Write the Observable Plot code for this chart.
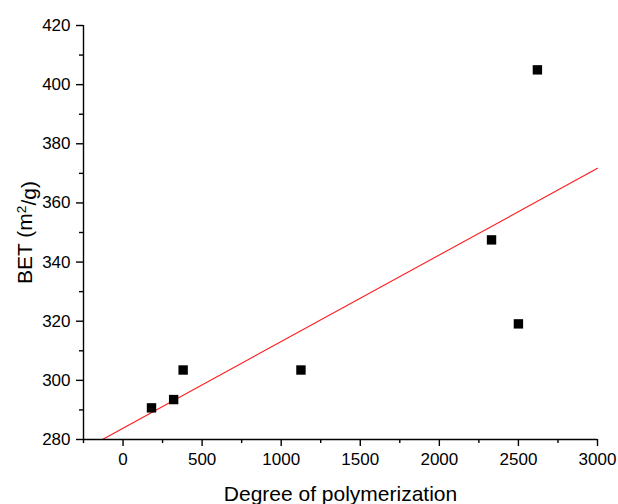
<!DOCTYPE html>
<html>
<head>
<meta charset="utf-8">
<script src="https://cdn.jsdelivr.net/npm/d3@7"></script>
<script src="https://cdn.jsdelivr.net/npm/@observablehq/plot@0.6"></script>
<style>
  html, body { margin: 0; padding: 0; background: #fff; }
  #chart svg { display: block; }
</style>
</head>
<body>
<div id="chart"></div>
<script>
// Data
const dp  = [180, 320, 380, 1125, 2330, 2500, 2620];
const bet = [290.7, 293.5, 303.5, 303.5, 347.5, 319.1, 405];
// Fitted line endpoints (as drawn in the reference)
const fitX = [-130, 3000];
const fitY = [280, 371.7];
// Ticks
const xTicks = [0, 500, 1000, 1500, 2000, 2500, 3000];
const xMinor = [-250, 250, 750, 1250, 1750, 2250, 2750];
const yTicks = [280, 300, 320, 340, 360, 380, 400, 420];
const yMinor = [290, 310, 330, 350, 370, 390, 410];
const xTitle = "Degree of polymerization";
const yTitle = "BET (m2/g)";

const points = dp.map((x, i) => ({x, y: bet[i]}));
const fit = fitX.map((x, i) => ({x, y: fitY[i]}));

const font = "'Liberation Sans', Arial, Helvetica, sans-serif";

const chart = Plot.plot({
  width: 618,
  height: 504,
  marginLeft: 83,
  marginRight: 21,
  marginTop: 25,
  marginBottom: 65,
  style: {fontFamily: font, fontSize: "17px", color: "#000", background: "#fff"},
  x: {domain: [-250, 3000]},
  y: {domain: [280, 420]},
  marks: [
    Plot.line(fit, {x: "x", y: "y", stroke: "#ff1a1a", strokeWidth: 1.1}),
    Plot.dot(points, {x: "x", y: "y", symbol: "square", r: 5.3, fill: "#000", stroke: "none"}),
    Plot.ruleX([-250], {stroke: "#000", strokeWidth: 1.4}),
    Plot.ruleY([280], {stroke: "#000", strokeWidth: 1.4}),
    Plot.axisX({ticks: xTicks, tickSize: 7, tickPadding: 6, tickFormat: d => String(d), label: null, fontSize: 17, strokeWidth: 1.4}),
    Plot.axisX({ticks: xMinor, tickSize: 4, tickFormat: () => "", label: null, strokeWidth: 1.4}),
    Plot.axisY({ticks: yTicks, tickSize: 7, tickPadding: 6, tickFormat: d => String(d), label: null, fontSize: 17, strokeWidth: 1.4}),
    Plot.axisY({ticks: yMinor, tickSize: 4, tickFormat: () => "", label: null, strokeWidth: 1.4}),
    Plot.text([xTitle], {frameAnchor: "bottom", dy: 55, text: d => d, fontSize: 21, fill: "#000", lineAnchor: "middle"}),
    Plot.text([yTitle], {frameAnchor: "left", dx: -58, rotate: -90, text: d => d, fontSize: 21, fill: "#000", textAnchor: "middle", lineAnchor: "middle"})
  ]
});

// Render the "2" of m2 as a superscript
d3.select(chart).selectAll("text").each(function () {
  if (this.textContent === yTitle) {
    const t = d3.select(this);
    t.text(null);
    t.append("tspan").text("BET (m");
    t.append("tspan").attr("dy", "-0.45em").attr("font-size", "0.65em").text("2");
    t.append("tspan").attr("dy", "0.45em").text("/g)");
  }
});

document.getElementById("chart").appendChild(chart);
</script>
</body>
</html>
